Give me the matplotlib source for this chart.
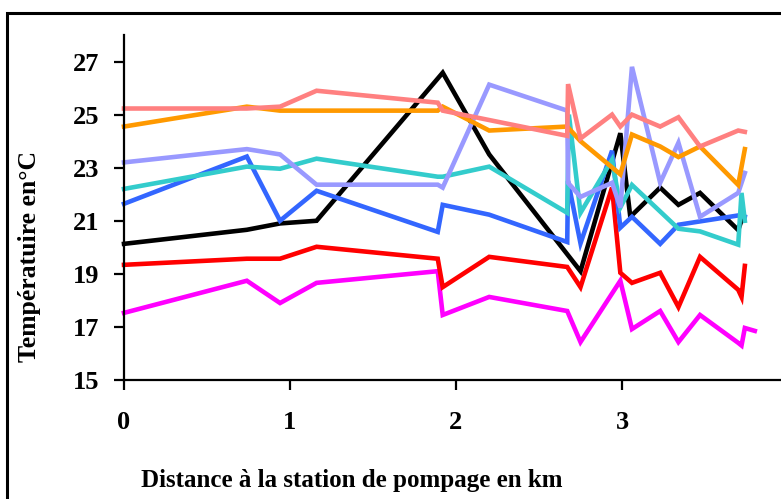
import matplotlib
matplotlib.use("Agg")
import matplotlib.pyplot as plt
from matplotlib.patches import Rectangle

# ---- data (distance km, temperature °C) ----
x_pink = [0, 0.74, 0.94, 1.16, 1.89, 1.92, 2.67, 2.675, 2.75, 2.94, 2.99, 3.06, 3.23, 3.34, 3.47, 3.70, 3.74]
y_pink = [25.23, 25.23, 25.3, 25.9, 25.45, 25.15, 24.2, 26.15, 24.1, 25.0, 24.55, 25.0, 24.55, 24.9, 23.8, 24.4, 24.35]

x_orange = [0, 0.74, 0.94, 1.16, 1.89, 1.92, 2.2, 2.67, 2.75, 2.99, 3.06, 3.23, 3.34, 3.47, 3.70, 3.74]
y_orange = [24.55, 25.3, 25.15, 25.15, 25.15, 25.3, 24.4, 24.55, 24.0, 22.75, 24.25, 23.8, 23.4, 23.8, 22.35, 23.7]

x_black = [0, 0.74, 0.94, 1.16, 1.92, 2.2, 2.75, 2.99, 3.05, 3.23, 3.34, 3.47, 3.70, 3.73]
y_black = [20.13, 20.66, 20.9, 21.0, 26.58, 23.5, 19.1, 24.3, 21.15, 22.25, 21.6, 22.05, 20.65, 21.2]

x_red = [0, 0.74, 0.94, 1.16, 1.89, 1.92, 2.2, 2.67, 2.75, 2.94, 2.99, 3.06, 3.23, 3.34, 3.47, 3.70, 3.72, 3.74]
y_red = [19.34, 19.57, 19.57, 20.02, 19.57, 18.5, 19.64, 19.26, 18.5, 22.25, 19.04, 18.66, 19.04, 17.75, 19.64, 18.4, 18.13, 19.3]

x_magenta = [0, 0.74, 0.94, 1.16, 1.89, 1.92, 2.2, 2.67, 2.75, 2.99, 3.06, 3.23, 3.34, 3.47, 3.70, 3.72, 3.74, 3.80]
y_magenta = [17.53, 18.74, 17.9, 18.66, 19.1, 17.45, 18.13, 17.6, 16.43, 18.74, 16.92, 17.6, 16.43, 17.45, 16.4, 16.3, 16.96, 16.85]

x_blue = [0, 0.74, 0.94, 1.16, 1.89, 1.92, 2.2, 2.67, 2.675, 2.75, 2.94, 2.99, 3.06, 3.23, 3.34, 3.70, 3.74]
y_blue = [21.64, 23.42, 21.0, 22.13, 20.58, 21.6, 21.23, 20.2, 22.5, 20.15, 23.64, 20.74, 21.15, 20.13, 20.85, 21.2, 21.15]

x_teal = [0, 0.74, 0.94, 1.16, 1.89, 1.92, 2.2, 2.67, 2.68, 2.75, 2.94, 2.99, 3.06, 3.34, 3.47, 3.70, 3.72, 3.74]
y_teal = [22.2, 23.04, 22.96, 23.34, 22.66, 22.66, 23.04, 21.3, 25.0, 21.3, 23.3, 21.5, 22.35, 20.7, 20.6, 20.1, 22.05, 21.0]

x_lav = [0, 0.74, 0.94, 1.16, 1.89, 1.92, 2.2, 2.67, 2.675, 2.75, 2.94, 2.99, 3.06, 3.23, 3.34, 3.47, 3.70, 3.74]
y_lav = [23.2, 23.7, 23.5, 22.36, 22.36, 22.25, 26.13, 25.15, 22.43, 21.9, 22.43, 21.5, 26.8, 22.43, 23.94, 21.15, 22.05, 22.8]

x_ticks = [0, 1, 2, 3, 4]
y_ticks = [15, 17, 19, 21, 23, 25, 27]

series = [
    (x_magenta, y_magenta, "#FF00FF"),
    (x_red, y_red, "#FF0000"),
    (x_black, y_black, "#000000"),
    (x_blue, y_blue, "#3366FF"),
    (x_teal, y_teal, "#33CCCC"),
    (x_lav, y_lav, "#9999FF"),
    (x_orange, y_orange, "#FF9900"),
    (x_pink, y_pink, "#FF8080"),
]

W, H = 781, 499
fig = plt.figure(figsize=(W / 100, H / 100), dpi=100)
FONT = "Liberation Serif"

ax = fig.add_axes([124 / W, (H - 380) / H, (788 - 124) / W, (380 - 35) / H])
for xs, ys, c in series:
    ax.plot(xs, ys, color=c, lw=3.3, solid_joinstyle="miter", clip_on=False)

ax.set_xlim(0, 4)
ax.set_ylim(15, 28)
ax.set_xticks(x_ticks)
ax.set_yticks(y_ticks)
for s in ["top", "right"]:
    ax.spines[s].set_visible(False)
for s in ["left", "bottom"]:
    ax.spines[s].set_linewidth(1.6)
    ax.spines[s].set_color("black")
ax.tick_params(axis="both", direction="out", length=7, width=1.6, color="black")
ax.tick_params(axis="y", pad=11)
ax.tick_params(axis="x", pad=15)
for lab in ax.get_xticklabels() + ax.get_yticklabels():
    lab.set_fontfamily(FONT)
    lab.set_fontweight("bold")
    lab.set_fontsize(19)

fig.text(352 / W, 1 - 481 / H, "Distance à la station de pompage en km",
         ha="center", va="center", fontsize=18, fontweight="bold", family=FONT)
fig.text(30 / W, 1 - 256 / H, "Températuire en°C", rotation=90,
         ha="center", va="center", fontsize=18.5, fontweight="bold", family=FONT)

# outer frame (continues beyond the right and bottom edges)
fig.patches.append(Rectangle((7 / W, -0.2), 2.0, (1 - 13 / H) + 0.2,
                             transform=fig.transFigure, fill=False,
                             edgecolor="black", lw=2.2))

fig.savefig("out.png", dpi=100)
